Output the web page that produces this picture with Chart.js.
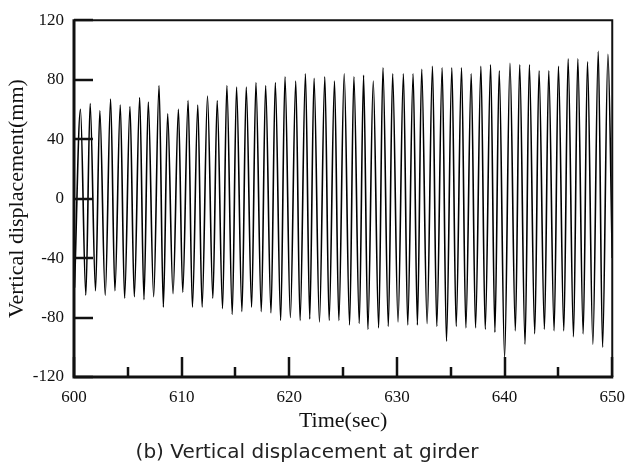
<!DOCTYPE html>
<html>
<head>
<meta charset="utf-8">
<script src="https://cdn.jsdelivr.net/npm/chart.js@4.4.1/dist/chart.umd.min.js"></script>
<style>
  html, body { margin: 0; padding: 0; background: #fff; }
  #wrap { width: 635px; height: 467px; }
</style>
</head>
<body>
<div id="wrap"><canvas id="dispCanvas" width="635" height="467"></canvas></div>
<script>
// peaks and troughs of the girder displacement record
var troughTimes = [600.05,601.1,602.0,602.9,603.8,604.7,605.6,606.5,607.4,608.3,609.2,610.1,611.0,611.9,612.9,613.8,614.7,615.6,616.5,617.4,618.3,619.2,620.1,621.0,621.9,622.8,623.7,624.6,625.6,626.5,627.3,628.3,629.2,630.1,631.0,631.9,632.8,633.7,634.6,635.5,636.4,637.3,638.2,639.1,640.0,641.0,641.9,642.8,643.7,644.6,645.5,646.4,647.3,648.2,649.1];
var troughValues = [-60,-65,-62,-65,-62,-67,-66,-68,-66,-73,-64,-63,-73,-73,-67,-74,-78,-76,-73,-76,-77,-82,-80,-82,-81,-83,-82,-82,-85,-84,-88,-87,-86,-83,-85,-85,-84,-86,-96,-86,-87,-87,-88,-90,-107,-89,-98,-91,-88,-89,-89,-93,-91,-98,-100];
var peakTimes = [600.6,601.5,602.4,603.4,604.3,605.2,606.1,606.9,607.9,608.7,609.7,610.6,611.5,612.4,613.3,614.2,615.1,616.0,616.9,617.8,618.7,619.6,620.6,621.5,622.3,623.3,624.2,625.1,626.0,626.9,627.8,628.7,629.6,630.6,631.5,632.3,633.3,634.2,635.1,636.0,636.9,637.8,638.7,639.5,640.5,641.4,642.3,643.2,644.1,645.0,645.9,646.8,647.7,648.7,649.6];
var peakValues = [60,64,59,67,63,62,68,65,76,57,60,66,63,69,66,76,75,75,78,76,78,82,79,84,81,82,79,84,82,83,79,88,84,84,84,87,89,88,88,88,84,89,90,86,91,90,90,86,86,89,94,94,92,99,97];
var endTime = 650, endValue = -40;

var xTicks = [600, 610, 620, 630, 640, 650];
var yTicks = [-120, -80, -40, 0, 40, 80, 120];

var points = [];
for (var i = 0; i < troughTimes.length; i++) {
  points.push({x: troughTimes[i], y: troughValues[i]});
  points.push({x: peakTimes[i], y: peakValues[i]});
}
points.push({x: endTime, y: endValue});

// frame + inward tick marks, placed through the chart scales
var frameTicks = {
  id: 'frameTicks',
  afterDatasetsDraw: function (chart) {
    var ctx = chart.ctx, a = chart.chartArea;
    var sx = chart.scales.x, sy = chart.scales.y;
    ctx.save();
    ctx.strokeStyle = '#111';
    ctx.lineCap = 'butt';
    ctx.lineWidth = 2.5;
    for (var v = xTicks[0]; v <= xTicks[xTicks.length - 1]; v += 5) {
      var px = Math.round(sx.getPixelForValue(v));
      var len = (v % 10 === 0) ? 20 : 10;
      ctx.beginPath(); ctx.moveTo(px, a.bottom); ctx.lineTo(px, a.bottom - len); ctx.stroke();
    }
    yTicks.forEach(function (v) {
      var py = Math.round(sy.getPixelForValue(v));
      ctx.beginPath(); ctx.moveTo(a.left, py); ctx.lineTo(a.left + 19, py); ctx.stroke();
    });
    ctx.lineWidth = 2;
    ctx.beginPath();
    ctx.moveTo(a.left, a.top); ctx.lineTo(a.right, a.top); ctx.lineTo(a.right, a.bottom);
    ctx.stroke();
    ctx.lineWidth = 3;
    ctx.beginPath();
    ctx.moveTo(a.left, a.top - 1); ctx.lineTo(a.left, a.bottom); ctx.lineTo(a.right + 1, a.bottom);
    ctx.stroke();
    ctx.restore();
  }
};

var serif = "'Liberation Serif', 'Times New Roman', serif";

new Chart(document.getElementById('dispCanvas'), {
  type: 'line',
  data: {
    datasets: [{
      data: points,
      borderColor: '#000',
      borderWidth: 1.6,
      pointRadius: 0,
      fill: false,
      cubicInterpolationMode: 'monotone'
    }]
  },
  options: {
    responsive: false,
    animation: false,
    layout: { padding: { top: 17, right: 21, left: 0, bottom: 0 } },
    plugins: {
      legend: { display: false },
      tooltip: { enabled: false },
      title: {
        display: true,
        position: 'bottom',
        text: '(b) Vertical displacement at girder',
        color: '#222',
        font: { family: "'DejaVu Sans', sans-serif", size: 20, weight: 'normal', lineHeight: 1.2 },
        padding: { top: 4, bottom: 2 }
      }
    },
    scales: {
      x: {
        type: 'linear',
        min: 600, max: 650,
        afterFit: function (s) { s.height = 60; },
        afterBuildTicks: function (s) { s.ticks = xTicks.map(function (v) { return {value: v}; }); },
        grid: { display: false, drawTicks: false },
        border: { display: false },
        ticks: { color: '#111', padding: 10, maxRotation: 0, font: { family: serif, size: 17 } },
        title: { display: true, text: 'Time(sec)', color: '#111', padding: { top: 0, bottom: 3 },
                 font: { family: serif, size: 22 } }
      },
      y: {
        min: -120, max: 120,
        afterFit: function (s) { s.width = 74; },
        afterBuildTicks: function (s) { s.ticks = yTicks.map(function (v) { return {value: v}; }); },
        grid: { display: false, drawTicks: false },
        border: { display: false },
        ticks: { color: '#111', padding: 10, font: { family: serif, size: 17 } },
        title: { display: true, text: 'Vertical displacement(mm)', color: '#111', padding: { top: 4, bottom: 0 },
                 font: { family: serif, size: 22 } }
      }
    }
  },
  plugins: [frameTicks]
});
</script>
</body>
</html>
